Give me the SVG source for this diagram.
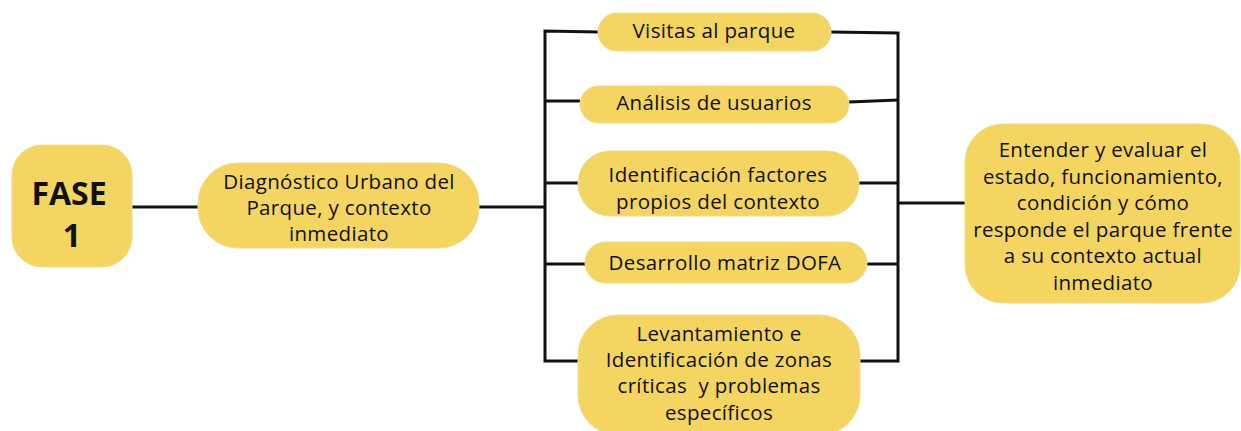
<svg xmlns="http://www.w3.org/2000/svg" width="1241" height="431" viewBox="0 0 1241 431">
<style>
.box{fill:#F4D561;stroke:#F0DC8C;stroke-width:1}
.t{font-family:"Open Sans","Liberation Sans",sans-serif;font-size:20.5px;letter-spacing:0.35px;fill:#111;text-anchor:middle}
.b{font-family:"Open Sans","Liberation Sans",sans-serif;font-size:32px;font-weight:bold;fill:#111;text-anchor:middle}
.c{stroke:#111;stroke-width:3;fill:none}
</style>
<rect width="1241" height="431" fill="#fff"/>
<g id="connectors">
<line class="c" x1="132" y1="207" x2="198" y2="207"/>
<line class="c" x1="479" y1="207" x2="545" y2="207"/>
<polyline class="c" points="598,32 545,31 545,361 578,361"/>
<line class="c" x1="545" y1="101" x2="580" y2="101"/>
<line class="c" x1="545" y1="183" x2="578" y2="183"/>
<line class="c" x1="545" y1="264" x2="585" y2="264"/>
<polyline class="c" points="831,32 898,33 898,361 860,361"/>
<line class="c" x1="849" y1="102" x2="898" y2="100"/>
<line class="c" x1="859" y1="183" x2="898" y2="183"/>
<line class="c" x1="867" y1="264" x2="898" y2="264"/>
<line class="c" x1="898" y1="203" x2="965" y2="203"/>
</g>
<g id="fase1">
<rect class="box" x="12" y="145" width="120" height="122" rx="30"/>
<text class="b" x="69" y="205">FASE</text>
<text class="b" x="72" y="247">1</text>
</g>
<g id="diagnostico">
<rect class="box" x="198" y="163" width="281" height="85" rx="40"/>
<text class="t" x="339" y="189">Diagnóstico Urbano del</text>
<text class="t" x="339" y="215">Parque, y contexto</text>
<text class="t" x="339" y="241">inmediato</text>
</g>
<g id="visitas">
<rect class="box" x="598" y="13" width="233" height="38" rx="19"/>
<text class="t" x="714" y="38">Visitas al parque</text>
</g>
<g id="analisis">
<rect class="box" x="580" y="86" width="269" height="37" rx="18.5"/>
<text class="t" x="714" y="110">Análisis de usuarios</text>
</g>
<g id="identificacion">
<rect class="box" x="578" y="151" width="281" height="65" rx="32"/>
<text class="t" x="718" y="182">Identificación factores</text>
<text class="t" x="718" y="209">propios del contexto</text>
</g>
<g id="dofa">
<rect class="box" x="585" y="242" width="282" height="41" rx="20.5"/>
<text class="t" x="725" y="270">Desarrollo matriz DOFA</text>
</g>
<g id="levantamiento">
<rect class="box" x="578" y="315" width="282" height="120" rx="40"/>
<text class="t" x="719" y="341">Levantamiento e</text>
<text class="t" x="719" y="367">Identificación de zonas</text>
<text class="t" x="719" y="393">críticas&#160; y problemas</text>
<text class="t" x="719" y="420">específicos</text>
</g>
<g id="objetivo">
<rect class="box" x="965" y="124" width="275" height="179" rx="38"/>
<text class="t" x="1103" y="157">Entender y evaluar el</text>
<text class="t" x="1103" y="184">estado, funcionamiento,</text>
<text class="t" x="1103" y="210">condición y cómo</text>
<text class="t" x="1103" y="237">responde el parque frente</text>
<text class="t" x="1103" y="263">a su contexto actual</text>
<text class="t" x="1103" y="290">inmediato</text>
</g>
</svg>
